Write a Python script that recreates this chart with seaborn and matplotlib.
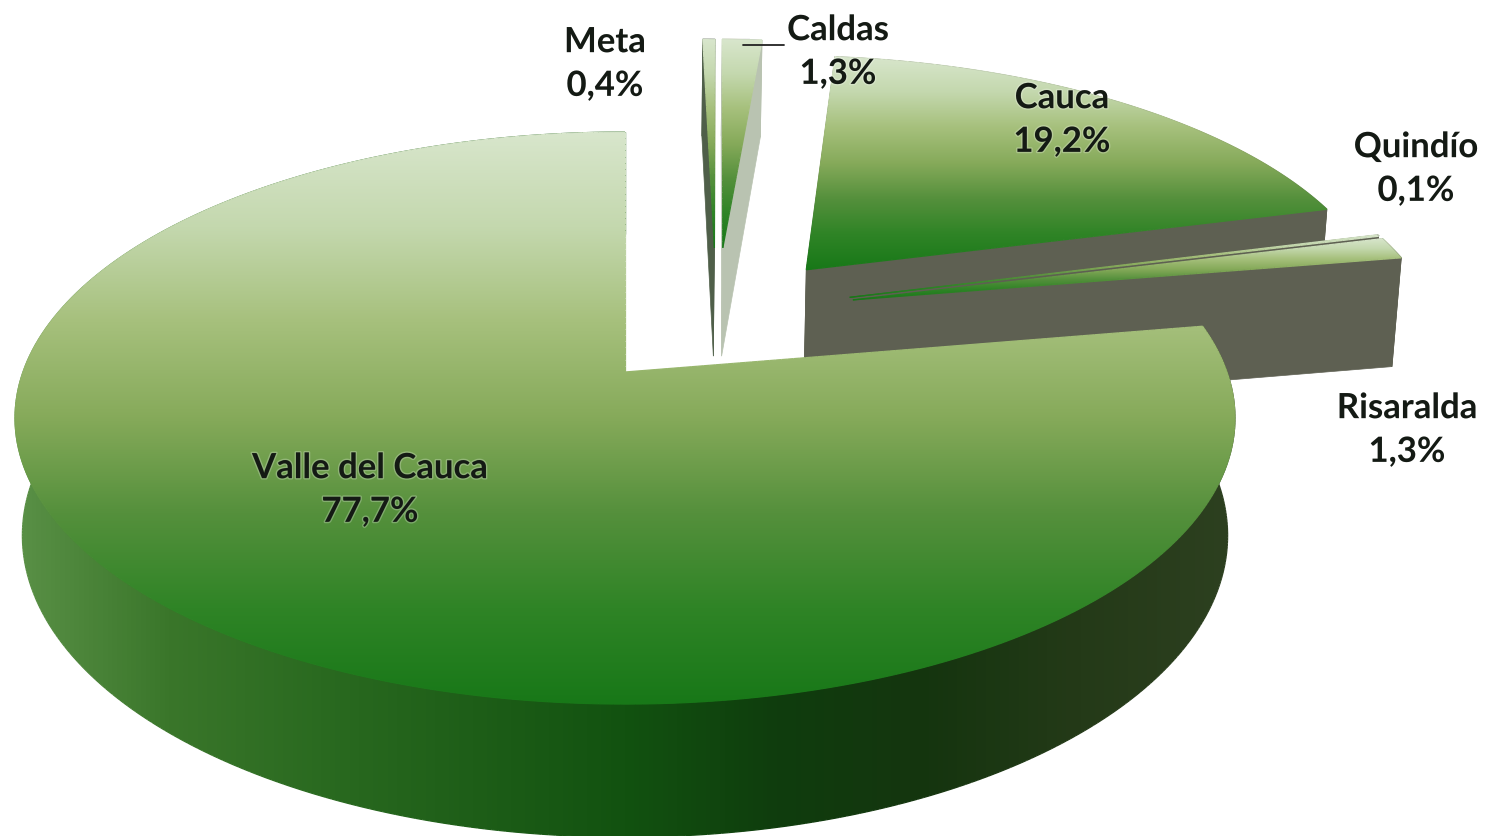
import itertools
import numpy as np
import matplotlib
matplotlib.use("Agg")
import matplotlib.pyplot as plt
import matplotlib.patheffects as pe
from matplotlib.collections import LineCollection
from matplotlib.patches import Polygon
import seaborn as sns

# data, clockwise from 12 o'clock
names = ["Meta", "Caldas", "Cauca", "Quindío", "Risaralda", "Valle del Cauca"]
values = [0.4, 1.3, 19.2, 0.1, 1.3, 77.7]

# explosion of each slice on the disk plane
offset_x = [0.16, 0.175, 0.32, 0.39, 0.395, 0.0]
offset_y = [-0.48, -0.48, -0.39, -0.28, -0.27, 0.0]
wall_colors = ["#4f5f49", "#b9c3b1", "#5e6052", "#5e6052", "#5e6052", None]
label_x = [605, 838, 1062, 1416, 1407, 370]
label_y = [65, 53, 121, 170, 431, 491]

sns.set_theme(style="white")
plt.rcParams["font.family"] = ["Lato", "DejaVu Sans"]

# perspective of the pie
CX, CY = 625, 373
AX, AY = 602, 278.6
KP = 0.161
DEPTH = 115
SHRINK = 0.012

top_cmap = sns.blend_palette(["#d8e6cc", "#c4d8ae", "#a6c07c", "#86aa5a", "#55903c", "#2f8426", "#187818"], as_cmap=True)
side_cmap = sns.blend_palette(["#5a9046", "#3a762a", "#2a6a20", "#1e5e18", "#125210", "#0f3d0d", "#15350f", "#243a18", "#2d4020"], as_cmap=True)

layer = itertools.count(1)


def project(x, y, z=0.0):
    w = 1 - KP * y
    sx = CX + AX * x * (1 - SHRINK * z) / w
    sy = CY + (AY * y * (1 - SHRINK * z) + DEPTH * z) / w
    return np.column_stack([sx, sy])


def paint(ax, pts, cmap, vertical=True):
    # gradient image clipped to the polygon, edge stroked to hide the jaggies
    x0, x1 = pts[:, 0].min(), pts[:, 0].max()
    y0, y1 = pts[:, 1].min(), pts[:, 1].max()
    patch = Polygon(pts, closed=True, transform=ax.transData, fc="none", ec="none")
    ax.add_patch(patch)
    ramp = np.linspace(0, 1, 256)
    grad = ramp[:, None] if vertical else ramp[None, :]
    im = ax.imshow(grad, cmap=cmap, extent=(x0, x1, y1, y0), aspect="auto", vmin=0, vmax=1,
                   interpolation="bilinear", zorder=next(layer))
    im.set_clip_path(patch)

    closed = np.vstack([pts, pts[:1]])
    dense = []
    for a, b in zip(closed[:-1], closed[1:]):
        n = max(2, int(np.hypot(*(b - a)) / 6))
        dense.append(np.linspace(a, b, n, endpoint=False))
    dense = np.vstack(dense + [closed[-1:]])
    segs = np.stack([dense[:-1], dense[1:]], axis=1)
    mid = segs.mean(axis=1)
    frac = (mid[:, 1] - y0) / max(y1 - y0, 1) if vertical else (mid[:, 0] - x0) / max(x1 - x0, 1)
    ax.add_collection(LineCollection(segs, colors=cmap(frac), linewidths=0.9, zorder=next(layer)))


def solid(ax, pts, color):
    ax.add_patch(Polygon(pts, closed=True, fc=color, ec=color, lw=0.5, zorder=next(layer)))


fig = plt.figure(figsize=(14.86, 8.37), dpi=100, facecolor="white")
ax = fig.add_axes([0, 0, 1, 1])

edges = np.cumsum([0] + values) / sum(values) * 2 * np.pi

for i in range(len(values)):
    th = np.linspace(edges[i], edges[i + 1], 240)
    rx = offset_x[i] + np.sin(th)
    ry = offset_y[i] - np.cos(th)
    ox, oy = np.array([offset_x[i]]), np.array([offset_y[i]])
    rim_top = project(rx, ry, 0)
    rim_bot = project(rx, ry, 1)
    apex_top = project(ox, oy, 0)
    apex_bot = project(ox, oy, 1)

    if wall_colors[i] is not None:
        # radial walls and outer wall in one flat colour
        solid(ax, np.vstack([apex_top, rim_top[:1], rim_bot[:1], apex_bot]), wall_colors[i])
        solid(ax, np.vstack([apex_top, rim_top[-1:], rim_bot[-1:], apex_bot]), wall_colors[i])
        solid(ax, np.vstack([rim_top, rim_bot[::-1]]), wall_colors[i])
    else:
        paint(ax, np.vstack([rim_top, rim_bot[::-1]]), side_cmap, vertical=False)

    paint(ax, np.vstack([apex_top, rim_top]), top_cmap)

# leader line of Caldas
ax.plot([743, 784], [46, 46], color="#222222", lw=1.3, zorder=next(layer))

for name, val, x, y in zip(names, values, label_x, label_y):
    label = f"{name}\n{val:.1f}%".replace(".", ",")
    ax.text(x, y, label, ha="center", va="center", fontsize=25, fontweight="bold",
            color="#141a14", linespacing=1.45, zorder=next(layer),
            path_effects=[pe.withStroke(linewidth=2, foreground="white", alpha=0.25)])

ax.set_xlim(0, 1486)
ax.set_ylim(837, 0)
ax.axis("off")

fig.savefig("out.png", dpi=100, facecolor="white")
